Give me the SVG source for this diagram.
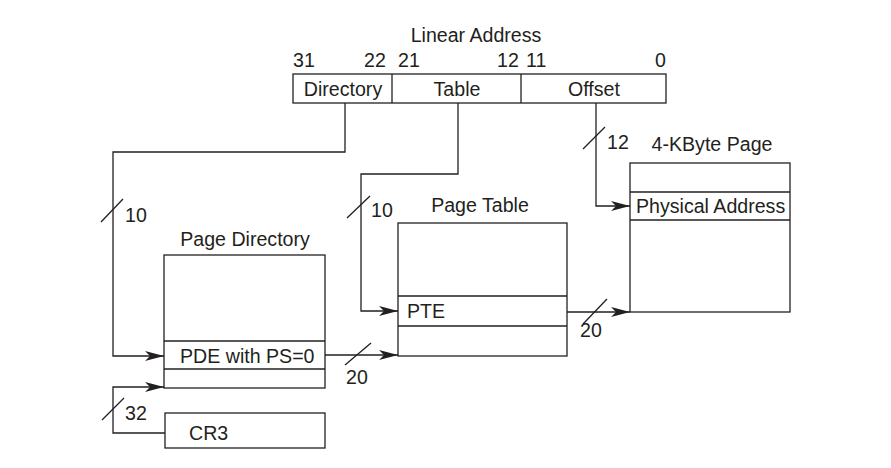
<svg xmlns="http://www.w3.org/2000/svg" width="891" height="468" viewBox="0 0 891 468">
<style>
text{font-family:"Liberation Sans",Arial,sans-serif;font-size:19.6px;fill:#231f20}
.box{fill:#fff;stroke:#231f20;stroke-width:1.3}
.ln{fill:none;stroke:#231f20;stroke-width:1.3}
.c{text-anchor:middle}
</style>
<defs>
<marker id="ah" markerUnits="userSpaceOnUse" markerWidth="20" markerHeight="12" refX="19" refY="5" orient="auto">
<path d="M0,0 L19,5 L0,10 L5,5 z" fill="#231f20"/>
</marker>
</defs>
<rect width="891" height="468" fill="#fff"/>
<g id="linear-address">
<text x="476" y="42" class="c">Linear Address</text>
<text x="293" y="67">31</text>
<text x="364" y="67">22</text>
<text x="398" y="67">21</text>
<text x="497" y="67">12</text>
<text x="526" y="67">11</text>
<text x="655" y="67">0</text>
<rect class="box" x="293" y="74" width="373" height="29"/>
<line class="ln" x1="392" y1="74" x2="392" y2="103"/>
<line class="ln" x1="521" y1="74" x2="521" y2="103"/>
<text x="343" y="96" class="c">Directory</text>
<text x="457" y="96" class="c">Table</text>
<text x="594" y="96" class="c">Offset</text>
</g>
<g id="page-directory">
<text x="245" y="246" class="c">Page Directory</text>
<rect class="box" x="164" y="255" width="161" height="133"/>
<line class="ln" x1="164" y1="341" x2="325" y2="341"/>
<line class="ln" x1="164" y1="369" x2="325" y2="369"/>
<text x="180" y="363">PDE with PS=0</text>
</g>
<g id="cr3">
<rect class="box" x="165" y="413" width="160" height="35"/>
<text x="189" y="440">CR3</text>
</g>
<g id="page-table">
<text x="480" y="212" class="c">Page Table</text>
<rect class="box" x="398" y="223" width="169" height="133"/>
<line class="ln" x1="398" y1="296" x2="567" y2="296"/>
<line class="ln" x1="398" y1="326" x2="567" y2="326"/>
<text x="407" y="318">PTE</text>
</g>
<g id="page">
<text x="712" y="151" class="c">4-KByte Page</text>
<rect class="box" x="630" y="163" width="160" height="149"/>
<line class="ln" x1="630" y1="192" x2="790" y2="192"/>
<line class="ln" x1="630" y1="220" x2="790" y2="220"/>
<text x="636" y="213">Physical Address</text>
</g>
<g id="connectors">
<polyline class="ln" points="345,103 345,152 113,152 113,356 164,356" marker-end="url(#ah)"/>
<line class="ln" x1="101" y1="222" x2="123" y2="199"/>
<text x="125" y="222">10</text>
<polyline class="ln" points="458,103 458,174 361,174 361,311 398,311" marker-end="url(#ah)"/>
<line class="ln" x1="347" y1="218" x2="370" y2="196"/>
<text x="371" y="217">10</text>
<polyline class="ln" points="596,103 596,206 630,206" marker-end="url(#ah)"/>
<line class="ln" x1="583" y1="149" x2="605" y2="127"/>
<text x="607" y="149">12</text>
<polyline class="ln" points="165,433 113,433 113,387 164,387" marker-end="url(#ah)"/>
<line class="ln" x1="102" y1="420" x2="124" y2="398"/>
<text x="125" y="420">32</text>
<polyline class="ln" points="325,355 398,355" marker-end="url(#ah)"/>
<line class="ln" x1="345" y1="365" x2="371" y2="343"/>
<text x="346" y="384">20</text>
<polyline class="ln" points="567,312 630,312" marker-end="url(#ah)"/>
<line class="ln" x1="583" y1="324" x2="607" y2="299"/>
<text x="580" y="337">20</text>
</g>
</svg>
